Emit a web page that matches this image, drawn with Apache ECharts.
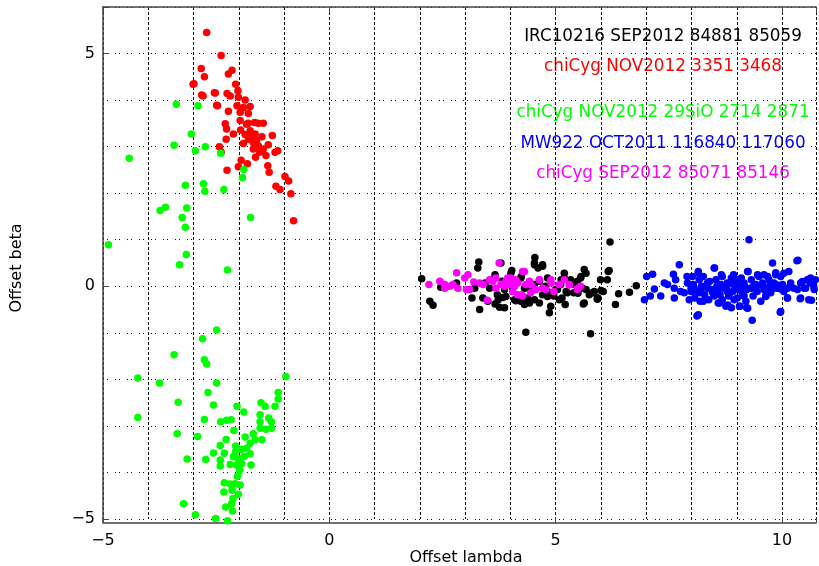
<!DOCTYPE html>
<html>
<head>
<meta charset="utf-8">
<script src="https://cdn.jsdelivr.net/npm/echarts@6/dist/echarts.min.js"></script>
<style>
	html, body { margin: 0; padding: 0; background: #fff; }
	#chart { width: 819px; height: 566px; }
</style>
</head>
<body>
<div id="chart"></div>
<script>
	// ---- data (Offset lambda, Offset beta) ----
	var ircSep2012 = [
		[2.04,0.16],[2.22,-0.32],[2.29,-0.41],[2.46,-0.02],[2.81,0.07],[3.15,-0.25],[3.32,-0.5],[3.30,0.52],
		[3.28,0.39],[3.44,0.07],[3.54,-0.04],[3.66,0.25],[3.71,-0.18],[3.66,-0.38],[3.76,-0.45],[3.83,-0.24],
		[3.87,-0.07],[3.98,0.11],[4.03,0.34],[4.12,-0.31],[4.23,0.18],[4.23,-0.32],[4.31,-0.39],[4.34,-0.99],
		[4.45,-0.07],[4.54,0.62],[4.53,0.46],[4.61,0.39],[4.71,0.43],[4.64,0.11],[4.71,-0.18],[4.64,-0.36],
		[4.82,-0.11],[4.89,-0.43],[4.86,-0.57],[5.0,-0.07],[5.08,-0.29],[5.11,0.04],[5.19,0.18],[5.26,-0.14],
		[5.33,0.14],[5.40,0.04],[5.48,0.11],[5.55,0.18],[5.63,0.36],[5.59,-0.04],[5.61,-0.38],[5.74,-0.18],
		[5.81,-0.14],[5.92,-0.25],[5.77,-1.02],[5.99,0.14],[6.05,-0.11],[6.14,0.14],[6.18,0.34],[6.20,0.95],
		[6.32,-0.39],[3.82,0.11],[4.05,-0.04],[3.61,0.14],[3.87,-0.46],[4.31,-0.04],[4.38,-0.25],[4.42,-0.36],
		[4.53,0.04],[4.78,0.0],[4.96,-0.21],[5.14,-0.25],[5.21,-0.39],[5.40,-0.14],[3.50,-0.32],[3.39,-0.25],
		[3.21,-0.04],[3.73,-0.29],[6.39,-0.16],[6.63,-0.13],[6.78,0.01],[6.16,0.32],[6.0,-0.09],[5.92,-0.28],
		[3.79,0.5],[4.53,0.5],[4.71,0.46],[4.01,0.28],[4.24,0.21],[4.82,0.18],[5.12,0.14],[5.56,0.21],
		[5.67,0.28],[5.04,-0.07],[5.23,-0.11],[5.49,-0.15],[5.67,-0.07],[5.85,-0.11],[4.82,-0.22],[4.53,-0.29],
		[4.09,-0.29],[4.31,-0.36],[3.90,-0.22],[5.63,-0.36],[5.93,-0.25],[5.41,0.07],[5.19,0.28]
	];
	var chiCygNov2012 = [
		[-2.71,5.45],[-2.39,4.96],[-2.83,4.68],[-2.76,4.50],[-2.23,4.56],[-2.15,4.64],[-3.01,4.34],[-2.54,4.16],
		[-2.82,4.11],[-2.26,4.14],[-2.19,4.09],[-2.49,3.89],[-2.07,4.34],[-2.02,4.20],[-2.01,4.06],[-1.86,4.0],
		[-2.04,3.88],[-1.90,3.84],[-1.75,3.86],[-1.79,3.71],[-1.97,3.74],[-2.23,3.76],[-2.30,3.49],[-2.27,3.38],
		[-1.97,3.56],[-1.79,3.50],[-1.57,3.50],[-1.46,3.50],[-1.75,3.34],[-1.96,3.36],[-2.12,3.27],[-2.28,3.16],
		[-1.64,3.27],[-1.49,3.21],[-1.26,3.24],[-1.79,3.16],[-1.90,3.07],[-1.68,3.09],[-1.57,3.02],[-1.46,2.95],
		[-1.35,3.04],[-1.54,2.88],[-1.40,2.81],[-1.20,2.88],[-1.14,2.91],[-1.63,2.77],[-1.68,2.95],[-2.43,3.0],
		[-2.39,2.88],[-1.95,2.71],[-1.81,2.63],[-2.01,2.57],[-2.26,2.49],[-1.36,2.59],[-1.33,2.45],[-0.98,2.36],
		[-0.90,2.26],[-1.18,2.15],[-1.09,2.08],[-0.85,1.99],[-0.79,1.41],[-1.72,3.22],[-1.61,3.14],[-1.86,3.26],
		[-1.83,3.48],[-1.65,3.52],[-2.99,4.35],[-2.79,4.09],[-2.52,4.15],[-2.47,3.88]
	];
	var chiCygNov2012SiO = [
		[-3.38,3.91],[-2.90,3.88],[-3.05,3.27],[-3.43,3.03],[-4.42,2.75],[-2.96,2.91],[-2.74,3.0],[-2.40,2.86],
		[-1.89,2.51],[-1.92,2.33],[-3.18,2.17],[-2.78,2.20],[-2.75,2.04],[-2.33,2.08],[-3.74,1.63],[-3.62,1.70],
		[-3.15,1.68],[-3.25,1.48],[-3.18,1.27],[-1.74,1.48],[-4.88,0.89],[-3.16,0.68],[-3.31,0.46],[-2.25,0.35],
		[-2.49,-0.94],[-2.80,-1.13],[-3.43,-1.47],[-2.76,-1.58],[-2.71,-1.67],[-4.23,-1.97],[-3.75,-2.08],[-2.49,-2.08],
		[-0.96,-1.94],[-2.68,-2.28],[-1.13,-2.28],[-1.13,-2.42],[-3.34,-2.49],[-2.56,-2.55],[-2.04,-2.58],[-1.89,-2.70],
		[-1.51,-2.50],[-1.42,-2.58],[-1.20,-2.58],[-1.53,-2.76],[-1.34,-2.83],[-1.28,-2.91],[-1.53,-2.91],[-4.23,-2.82],
		[-2.76,-2.86],[-2.40,-2.91],[-2.27,-2.88],[-2.17,-2.87],[-1.53,-3.05],[-1.40,-3.07],[-1.28,-3.05],[-2.11,-3.10],
		[-3.36,-3.17],[-2.91,-3.23],[-1.86,-3.24],[-1.68,-3.17],[-1.64,-3.30],[-1.75,-3.37],[-1.49,-3.30],[-2.28,-3.29],
		[-2.07,-3.43],[-2.41,-3.42],[-1.95,-3.50],[-1.83,-3.48],[-2.56,-3.58],[-2.32,-3.59],[-2.12,-3.66],[-2.01,-3.70],
		[-1.88,-3.65],[-1.75,-3.60],[-3.14,-3.71],[-2.73,-3.72],[-2.41,-3.73],[-2.19,-3.83],[-2.05,-3.84],[-1.94,-3.81],
		[-1.73,-3.84],[-2.41,-3.86],[-1.98,-3.95],[-2.03,-4.08],[-2.32,-4.22],[-2.19,-4.25],[-2.08,-4.24],[-1.97,-4.27],
		[-2.15,-4.38],[-2.33,-4.42],[-2.01,-4.47],[-2.13,-4.56],[-2.16,-4.67],[-2.29,-4.74],[-2.14,-4.83],[-3.22,-4.67],
		[-2.96,-4.91],[-2.51,-4.99],[-2.25,-5.04],[-2.07,-3.55]
	];
	var mw922Oct2011 = [
		[6.96,-0.29],[7.01,0.21],[7.09,-0.21],[7.14,0.26],[7.18,-0.06],[7.32,-0.21],[7.40,0.07],[7.47,0.04],
		[7.60,0.26],[7.62,-0.04],[7.62,-0.25],[7.65,0.14],[7.73,0.46],[7.76,-0.11],[7.84,-0.14],[7.90,0.21],
		[7.91,0.07],[7.95,-0.29],[7.99,-0.11],[8.02,0.21],[8.04,0.04],[8.10,-0.14],[8.12,-0.64],[8.15,0.32],
		[8.17,0.14],[8.19,-0.32],[8.22,-0.04],[8.26,0.21],[8.29,-0.18],[8.35,0.07],[8.38,-0.29],[8.43,-0.07],
		[8.50,0.39],[8.54,0.14],[8.56,0.0],[8.59,-0.36],[8.63,-0.18],[8.68,0.21],[8.72,-0.04],[8.76,-0.43],
		[8.79,0.07],[8.82,-0.21],[8.88,-0.46],[8.93,0.25],[8.96,-0.07],[8.99,0.11],[9.01,-0.25],[9.05,0.0],
		[9.07,-0.43],[9.10,0.18],[9.13,-0.14],[9.16,0.07],[9.20,-0.32],[9.22,-0.46],[9.25,0.32],[9.27,1.0],
		[9.29,-0.04],[9.32,0.14],[9.34,-0.73],[9.36,-0.21],[9.42,0.04],[9.45,-0.11],[9.49,0.21],[9.53,-0.32],
		[9.57,0.07],[9.60,0.25],[9.64,-0.21],[9.68,-0.04],[9.71,0.14],[9.75,-0.14],[9.79,0.5],[9.82,0.07],
		[9.86,0.29],[9.90,-0.04],[9.96,-0.56],[9.97,0.21],[10.01,0.04],[10.04,-0.11],[10.12,-0.25],[10.15,0.32],
		[10.19,0.07],[10.26,-0.04],[10.35,0.56],[10.40,-0.27],[10.41,0.07],[10.49,-0.04],[10.56,0.14],[10.62,0.07],
		[10.65,-0.30],[10.71,-0.07],[10.74,0.14],[8.06,-0.04],[8.47,-0.14],[8.65,0.04],[8.85,-0.14],[9.07,-0.04],
		[9.22,-0.07],[9.37,0.0],[8.32,0.0],[8.17,-0.14],[7.99,-0.04],[8.50,-0.21],[8.94,-0.29],[8.79,-0.11],
		[8.68,-0.29],[9.16,-0.21],[9.60,-0.07],[9.82,-0.04],[9.97,-0.06],[8.90,0.05],[9.10,-0.10],[8.40,0.10],
		[8.15,0.28],[8.51,0.39],[8.66,0.25],[8.88,0.18],[9.02,0.14],[9.24,0.32],[9.46,0.25],[9.68,0.21],
		[9.86,0.25],[10.04,0.28],[10.33,0.55],[10.45,0.10],[10.63,0.18],[8.04,0.03],[8.22,0.0],[8.36,-0.04],
		[8.58,-0.07],[8.77,-0.04],[8.91,-0.11],[9.17,0.0],[9.35,-0.04],[9.53,0.03],[9.72,0.0],[9.90,0.03],
		[10.12,-0.04],[10.34,-0.07],[10.52,-0.04],[10.70,0.0],[8.07,-0.25],[8.26,-0.32],[8.62,-0.36],[8.80,-0.40],
		[9.06,-0.43],[9.24,-0.47],[9.64,-0.22],[10.12,-0.25],[10.41,-0.25],[10.59,-0.29],[9.97,-0.54],[8.15,-0.61]
	];
	var chiCygSep2012 = [
		[2.20,0.04],[2.44,0.11],[2.55,0.04],[2.66,0.0],[2.73,0.04],[2.81,0.29],[2.84,-0.04],[2.99,0.18],
		[3.06,0.25],[3.03,-0.07],[3.10,-0.07],[3.32,0.07],[3.40,0.04],[3.49,-0.30],[3.54,0.14],[3.61,0.11],
		[3.68,-0.04],[3.75,0.5],[3.79,0.04],[3.90,0.11],[3.98,0.04],[4.01,0.18],[4.09,0.0],[4.12,0.14],
		[4.16,-0.18],[4.27,-0.21],[4.31,0.32],[4.34,0.04],[4.42,0.11],[4.45,-0.14],[4.56,-0.07],[4.64,0.14],
		[4.71,-0.04],[4.78,-0.07],[4.89,0.14],[4.96,-0.11],[5.08,0.04],[5.19,0.14],[5.30,0.04],[5.48,-0.07],
		[5.55,0.0],[3.68,0.18],[3.19,0.09],[2.55,-0.04],[4.27,0.32],[3.94,0.18],[4.16,0.07],[4.46,0.03],
		[4.64,0.14],[4.90,0.07],[3.87,0.0],[4.05,-0.11],[4.24,-0.18],[5.49,-0.04],[5.30,0.03]
	];

	var seriesNames = [
		'IRC10216 SEP2012 84881 85059',
		'chiCyg NOV2012 3351 3468',
		'chiCyg NOV2012 29SiO 2714 2871',
		'MW922 OCT2011 116840 117060',
		'chiCyg SEP2012 85071 85146'
	];
	var seriesColors = ['#000000', '#ff0000', '#00ff00', '#0000ff', '#ff00ff'];
	var seriesData = [ircSep2012, chiCygNov2012, chiCygNov2012SiO, mw922Oct2011, chiCygSep2012];

	var xMin = -5, xMax = 10.75;
	var yMin = -5, yMax = 6;

	// ---- build chart ----
	var fontFamily = '"DejaVu Sans", sans-serif';

	var tickLabel = function(value) {
		if (value % 5 !== 0) {
			return '';
		}
		return String(value).replace('-', '\u2212');
	};

	var buildSeries = function() {
		var list = [];
		for (var i = 0; i < seriesData.length; i++) {
			list.push({
				name: seriesNames[i],
				type: 'scatter',
				xAxisIndex: 0,
				yAxisIndex: 0,
				clip: false,
				symbol: 'circle',
				symbolSize: 7.5,
				itemStyle: { color: seriesColors[i], opacity: 1 },
				data: seriesData[i]
			});
		}
		return list;
	};

	var buildLabels = function() {
		var ys = [37, 67, 113, 144, 174];
		var items = [];
		for (var i = 0; i < seriesNames.length; i++) {
			items.push({
				type: 'text',
				x: 663,
				y: ys[i],
				style: {
					text: seriesNames[i],
					fill: seriesColors[i],
					font: '16.8px ' + fontFamily,
					textAlign: 'center',
					textVerticalAlign: 'middle'
				}
			});
		}
		items.push({
			type: 'text', x: 466, y: 558,
			style: { text: 'Offset lambda', fill: '#000', font: '16px ' + fontFamily, textAlign: 'center', textVerticalAlign: 'middle' }
		});
		items.push({
			type: 'text', x: 17, y: 268, rotation: Math.PI / 2,
			style: { text: 'Offset beta', fill: '#000', font: '16px ' + fontFamily, textAlign: 'center', textVerticalAlign: 'middle' }
		});
		// close the corner between the left axis and the offset bottom axis
		items.push({
			type: 'line',
			shape: { x1: 103, y1: 518, x2: 103, y2: 523 },
			style: { stroke: '#444', lineWidth: 1.5 }
		});
		return items;
	};

	var axisLineStyle = { color: '#444', width: 1.5 };

	var option = {
		animation: false,
		backgroundColor: '#fff',
		grid: { left: 103, right: 0, top: 7, bottom: 47, containLabel: false },
		xAxis: [
			{	// dotted grid
				type: 'value', min: xMin, max: xMax, interval: 1,
				axisLine: { show: false }, axisTick: { show: false }, axisLabel: { show: false },
				splitLine: { show: true, lineStyle: { color: '#111', width: 1, type: [3, 2] } }
			},
			{	// bottom axis with labels
				type: 'value', min: xMin, max: xMax, interval: 5, position: 'bottom', offset: 4,
				axisLine: { show: true, onZero: false, lineStyle: axisLineStyle },
				axisTick: { show: true, inside: true, length: 6, lineStyle: { color: '#444' } },
				axisLabel: { show: true, margin: 10, color: '#000', fontSize: 16, fontFamily: fontFamily, formatter: tickLabel },
				splitLine: { show: false }
			},
			{	// top frame
				type: 'value', min: xMin, max: xMax, interval: 5, position: 'top',
				axisLine: { show: true, onZero: false, lineStyle: axisLineStyle },
				axisTick: { show: true, inside: true, length: 6, lineStyle: { color: '#444' } },
				axisLabel: { show: false },
				splitLine: { show: false }
			}
		],
		yAxis: [
			{	// dotted grid
				type: 'value', min: yMin, max: yMax, interval: 1,
				axisLine: { show: false }, axisTick: { show: false }, axisLabel: { show: false },
				splitLine: { show: true, lineStyle: { color: '#111', width: 1, type: [1, 3, 1, 7] } }
			},
			{	// left axis with labels
				type: 'value', min: yMin, max: yMax, interval: 5, position: 'left',
				axisLine: { show: true, onZero: false, lineStyle: axisLineStyle },
				axisTick: { show: true, inside: true, length: 6, lineStyle: { color: '#444' } },
				axisLabel: { show: true, margin: 8, color: '#000', fontSize: 16, fontFamily: fontFamily, formatter: tickLabel },
				splitLine: { show: false }
			}
		],
		graphic: buildLabels(),
		series: buildSeries()
	};

	var myChart = echarts.init(document.getElementById('chart'), null, { renderer: 'canvas' });
	myChart.setOption(option);
</script>
</body>
</html>
